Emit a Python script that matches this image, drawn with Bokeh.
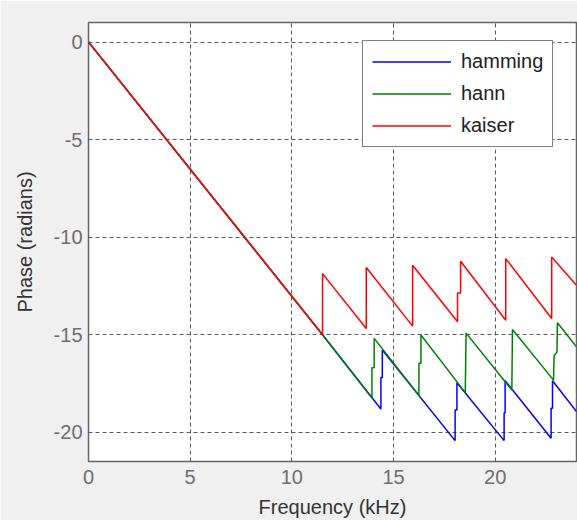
from bokeh.plotting import figure
from bokeh.models import Range1d, FixedTicker
from bokeh.embed import file_html
from bokeh.resources import INLINE

# ---- data ----
x_ticks = [0, 5, 10, 15, 20]
y_ticks = [0, -5, -10, -15, -20]

hamming_freq = [0, 11.51, 14.38, 14.38, 14.45, 14.45, 18.03, 18.03, 18.12, 18.12,
                20.44, 20.44, 20.49, 20.49, 22.75, 22.75, 22.82, 22.82, 24.0]
hamming_phase = [0, -15.0, -18.81, -17.2, -17.2, -15.79, -20.43, -18.86, -18.86, -17.46,
                 -20.43, -19.0, -19.0, -17.36, -20.31, -18.77, -18.77, -17.36, -18.94]

hann_freq = [0, 11.51, 13.94, 13.94, 14.05, 14.05, 16.25, 16.25, 16.35, 16.35,
             18.53, 18.57, 20.82, 20.85, 22.87, 22.9, 23.04, 23.06, 24.0]
hann_phase = [0, -15.0, -18.25, -16.7, -16.7, -15.19, -18.12, -16.47, -16.47, -15.02,
              -17.97, -14.92, -17.84, -14.73, -17.33, -16.05, -15.9, -14.39, -15.62]

kaiser_freq = [0, 11.51, 11.51, 13.66, 13.66, 15.94, 15.94, 18.15, 18.15, 18.3, 18.3,
               20.52, 20.52, 22.78, 22.78, 24.0]
kaiser_phase = [0, -15.0, -11.87, -14.68, -11.56, -14.56, -11.44, -14.34, -12.86, -12.86, -11.24,
                -14.26, -11.1, -14.17, -11.02, -12.47]

series_names = ["hamming", "hann", "kaiser"]
series_colors = ["#0000ff", "#008000", "#ff0000"]
x_label = "Frequency (kHz)"
y_label = "Phase (radians)"

FONT = "Liberation Sans"

p = figure(width=577, height=520, output_backend="svg", toolbar_location=None,
           x_range=Range1d(0, 24), y_range=Range1d(-21.5, 1),
           min_border_left=88, min_border_right=1, min_border_top=22, min_border_bottom=58)

p.background_fill_color = "white"
p.border_fill_color = "#f0f0f0"
p.outline_line_color = "#666666"
p.outline_line_width = 1.5

for ax, ticks in ((p.xaxis, x_ticks), (p.yaxis, y_ticks)):
    ax.ticker = FixedTicker(ticks=ticks)
    ax.major_label_overrides = {t: str(t) for t in ticks}
    ax.minor_tick_line_color = None
    ax.major_tick_in = 0
    ax.major_tick_out = 0
    ax.axis_line_color = None
    ax.major_label_text_font = FONT
    ax.major_label_text_font_size = "20px"
    ax.major_label_text_color = "#6e6e6e"
    ax.axis_label_text_font = FONT
    ax.axis_label_text_font_size = "20px"
    ax.axis_label_text_font_style = "normal"
    ax.axis_label_text_color = "#333333"

p.xaxis.axis_label = x_label
p.yaxis.axis_label = y_label
p.xaxis.major_label_standoff = 8
p.xaxis.axis_label_standoff = 9
p.yaxis.major_label_standoff = 6
p.yaxis.axis_label_standoff = 15

for g, ticks in ((p.xgrid, x_ticks), (p.ygrid, y_ticks)):
    g.ticker = FixedTicker(ticks=ticks)
    g.grid_line_color = "#5a5a5a"
    g.grid_line_dash = "4 3"
    g.grid_line_width = 1

data = [(hamming_freq, hamming_phase), (hann_freq, hann_phase), (kaiser_freq, kaiser_phase)]
for (fx, ph), name, col in zip(data, series_names, series_colors):
    p.line(fx, ph, line_color=col, line_width=1.5, legend_label=name)

lg = p.legend[0]
lg.location = (274, 314)
lg.margin = 0
lg.padding = 9
lg.spacing = 9
lg.glyph_width = 79
lg.glyph_height = 23
lg.label_height = 23
lg.label_standoff = 10
lg.label_text_font = FONT
lg.label_text_font_size = "20px"
lg.label_text_line_height = 1.0
lg.label_text_color = "#222222"
lg.border_line_color = "black"
lg.border_line_width = 1.5
lg.background_fill_color = "white"
lg.background_fill_alpha = 1.0

open("out.html", "w").write(file_html(p, INLINE))
